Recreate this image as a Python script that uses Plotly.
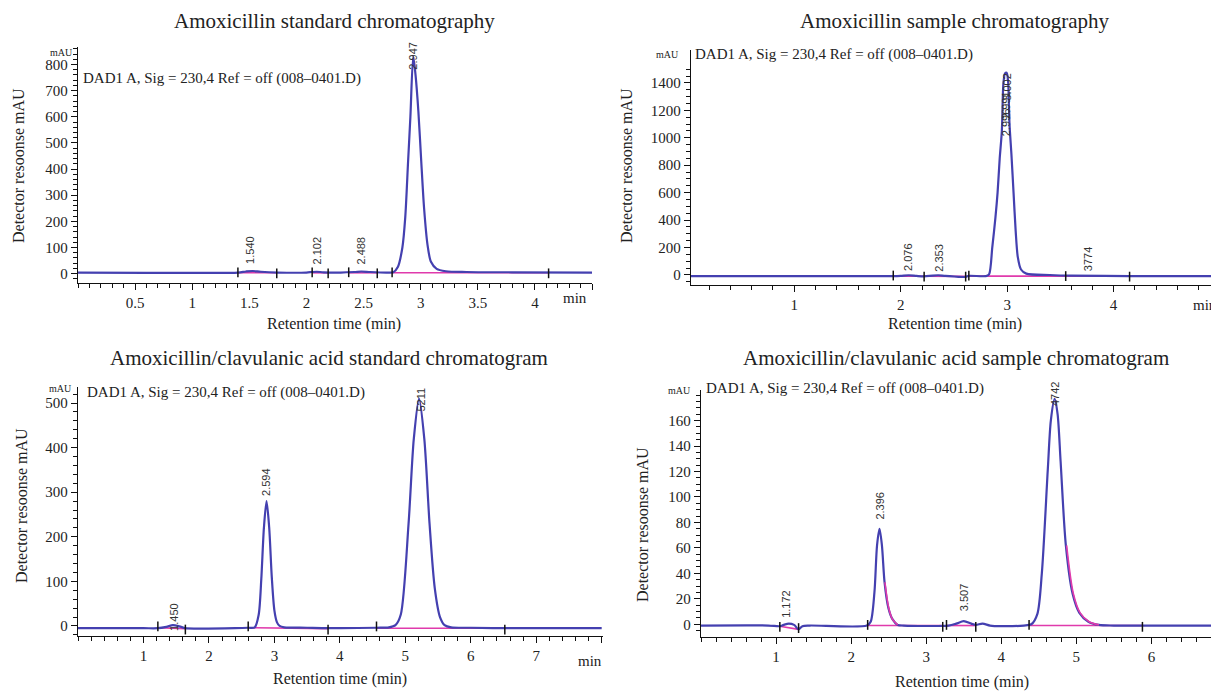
import plotly.graph_objects as go

# page body has an 8px default margin, so the figure is drawn 8px smaller and
# all reference-pixel positions are shifted by that offset
W, H = 1219, 692
OFF = 8
FW, FH = W - OFF, H - OFF

# ---------------- data ----------------
# Panel 1: Amoxicillin standard
t1 = [0, 0.6, 1.0, 1.40, 1.47, 1.53, 1.60, 1.75, 2.0, 2.05, 2.09, 2.15, 2.3, 2.42, 2.48, 2.56, 2.7, 2.76,
      2.80, 2.84, 2.865, 2.89, 2.91, 2.935, 2.955, 2.98, 3.005, 3.03, 3.06, 3.09, 3.14, 3.22, 3.4, 3.8, 4.5]
y1 = [4, 3, 3, 4, 8, 10, 7, 4, 4, 6, 7, 5, 4, 6, 8, 6, 4, 5,
      25, 100, 215, 430, 600, 830, 760, 620, 430, 250, 110, 45, 18, 9, 6, 5, 4]
base1_t = [1.40, 1.74, None, 2.05, 2.19, None, 2.37, 2.62, None, 2.75, 4.12]
base1_y = [3, 3, None, 3, 3, None, 3, 3, None, 3, 3]
ev1_t = [1.40, 1.74, 2.05, 2.19, 2.37, 2.62, 2.75, 4.12]
ev1_y = [5, 1, 5, 1, 5, 1, 5, 1]
lab1_t = [1.507, 2.094, 2.48, 2.933]
lab1_y = [30, 28, 28, 834]
lab1_anchor = ["bottom", "bottom", "bottom", "middle"]
lab1_txt = ["1.540", "2.102", "2.488", "2.947"]

# Panel 2: Amoxicillin sample
t2 = [0.03, 1.0, 1.6, 1.93, 2.0, 2.076, 2.15, 2.22, 2.30, 2.353, 2.42, 2.61, 2.64, 2.80, 2.83, 2.86, 2.89,
      2.91, 2.93, 2.95, 2.965, 2.98, 2.995, 3.008, 3.022, 3.04, 3.06, 3.08, 3.10, 3.13, 3.18,
      3.4, 3.6, 4.15, 4.99]
y2 = [-8, -8, -8, -8, -6, -2, -7, -10, -4, -2, -6, -14, -6, -8, 5, 200, 420,
      600, 850, 1050, 1400, 1470, 1475, 1420, 1100, 880, 600, 320, 130, 40, 10,
      0, -5, -8, -8]
base2_t = [1.93, 2.22, None, 2.22, 2.61, None, 2.64, 3.55, None, 3.55, 4.15]
base2_y = [-8, -9, None, -9, -10, None, -8, -8, None, -8, -8]
ev2_t = [1.93, 2.22, 2.61, 2.64, 3.55, 4.15]
ev2_y = [-4, -12, -12, -4, -8, -12]
lab2_t = [2.074, 2.363, 3.767, 2.985, 2.99, 2.995]
lab2_y = [12, 12, 12, 1110, 1240, 1370]
lab2_anchor = ["bottom", "bottom", "bottom", "middle", "middle", "middle"]
lab2_txt = ["2.076", "2.353", "3774", "2.996", "2.991", "3.002"]

# Panel 3: Amoxicillin/clavulanic acid standard
t3 = [0, 1.0, 1.22, 1.35, 1.45, 1.55, 1.64, 1.8, 2.4, 2.60, 2.70, 2.76, 2.80, 2.84, 2.88, 2.92, 2.96, 3.00,
      3.04, 3.08, 3.15, 3.5, 4.0, 4.56, 4.75, 4.85, 4.93, 5.05, 5.13, 5.21, 5.29, 5.37, 5.45, 5.53, 5.60,
      5.70, 6.0, 6.52, 8.0]
y3 = [-5, -5, -5, -2, 2, -1, -5, -6, -5, -4, -3, 25, 105, 220, 280, 222, 110, 35,
      8, 0, -3, -4, -5, -4, -3, 2, 25, 230, 420, 510, 420, 230, 85, 20, 2,
      -3, -4, -5, -5]
base3_t = [1.22, 1.64, None, 2.60, 3.82, None, 4.56, 6.52]
base3_y = [-4, -6, None, -4, -6, None, -5, -5]
ev3_t = [1.22, 1.64, 2.60, 3.82, 4.56, 6.52]
ev3_y = [-1, -8, -1, -8, -1, -8]
lab3_t = [1.464, 2.88, 5.24]
lab3_y = [20, 286, 508]
lab3_anchor = ["middle", "bottom", "middle"]
lab3_txt = ["1.450", "2.594", "5211"]

# Panel 4: Amoxicillin/clavulanic acid sample
t4 = [0, 0.9, 1.05, 1.10, 1.17, 1.24, 1.30, 1.35, 1.45, 2.21, 2.26, 2.31, 2.345, 2.378, 2.41, 2.445, 2.495,
      2.55, 2.62, 2.7, 3.3, 3.4, 3.5, 3.6, 3.66, 3.75, 3.85, 4.0, 4.3, 4.40, 4.48, 4.54, 4.62, 4.66, 4.71,
      4.75, 4.79, 4.86, 4.95, 5.04, 5.16, 5.3, 5.5, 6.92]
y4 = [-1, -1, -1.5, -0.5, 0.5, -0.5, -4, -1.5, -1, -1, 2, 25, 62, 75, 62, 33, 13,
      4, -0.5, -1, -1, 0.5, 2.5, 0.5, -0.5, 0.5, -1, -1.5, -1, 0, 8, 40, 122, 160, 177,
      165, 128, 62, 24, 9, 2, -0.5, -1, -1]
tail4_t = [2.45, 2.50, 2.55, 2.62, None, 4.87, 4.96, 5.05, 5.17, 5.3]
tail4_y = [33, 13, 4, -0.5, None, 62, 24, 9, 2, -0.5]
base4_t = [1.05, 1.30, None, 2.22, 3.22, None, 3.27, 3.66, None, 4.37, 5.88]
base4_y = [-1.5, -4, None, -1, -1, None, -1, -1, None, -1, -1]
ev4_t = [1.05, 1.30, 2.22, 3.22, 3.27, 3.66, 4.37, 5.88]
ev4_y = [-2, -3, -0.5, -2, -0.5, -2, -0.5, -2]
lab4_t = [1.134, 2.383, 3.496, 4.719]
lab4_y = [3.6, 80.6, 9, 181]
lab4_anchor = ["bottom", "bottom", "bottom", "middle"]
lab4_txt = ["1.172", "2.396", "3.507", "4742"]

# axis ticks
xt1 = [0.5, 1, 1.5, 2, 2.5, 3, 3.5, 4, 4.5]
xt1_txt = ["0.5", "1", "1.5", "2", "2.5", "3", "3.5", "4", ""]
xt2 = [1, 2, 3, 4]
xt3 = [1, 2, 3, 4, 5, 6, 7, 8]
xt3_txt = ["1", "2", "3", "4", "5", "6", "7", ""]
xt4 = [1, 2, 3, 4, 5, 6]
yt1 = [0, 100, 200, 300, 400, 500, 600, 700, 800]
yt2 = [0, 200, 400, 600, 800, 1000, 1200, 1400]
yt2_minor = [-50, 50, 100, 150, 250, 300, 350, 450, 500, 550, 650, 700, 750, 850, 900, 950, 1050,
             1100, 1150, 1250, 1300, 1350, 1450, 1500]
yt3 = [0, 100, 200, 300, 400, 500]
yt4 = [0, 20, 40, 60, 80, 100, 120, 140, 160]
yt4_minor = [-5, 5, 10, 15, 25, 30, 35, 45, 50, 55, 65, 70, 75, 85, 90, 95, 105, 110, 115, 125, 130,
             135, 145, 150, 155, 165, 170, 175, 180]

titles = ["Amoxicillin standard chromatography", "Amoxicillin sample chromatography",
          "Amoxicillin/clavulanic acid standard chromatogram", "Amoxicillin/clavulanic acid sample chromatogram"]
ytitle = "Detector resoonse mAU"
xtitle = "Retention time (min)"
dad_text = "DAD1 A, Sig = 230,4 Ref = off (008\u20130401.D)"

# ---------------- layout helpers ----------------
def px(x):
    return (x - OFF) / FW

def py(y):
    return 1 - (y - OFF) / FH

SERIF = "Liberation Serif, Times New Roman, serif"
SANS = "Liberation Sans, Arial, sans-serif"
BLUE = "#4440b0"
MAG = "#e03aac"

panels = [
    dict(t=t1, y=y1, bt=base1_t, by=base1_y, et=ev1_t, ey=ev1_y, lt=lab1_t, ly=lab1_y, lx=lab1_txt,
         la=lab1_anchor, tt=None, ty=None,
         xdom=(78, 592), ydom=(47, 283), xr=(0, 4.5), yr=(-36, 867),
         xt=xt1, xtt=xt1_txt, xminor=0.1, yt=yt1, yminor=dict(dtick=20, tick0=0)),
    dict(t=t2, y=y2, bt=base2_t, by=base2_y, et=ev2_t, ey=ev2_y, lt=lab2_t, ly=lab2_y, lx=lab2_txt,
         la=lab2_anchor, tt=None, ty=None,
         xdom=(691, 1219), ydom=(50, 285), xr=(0.03, 4.99), yr=(-73, 1640),
         xt=xt2, xtt=[str(v) for v in xt2], xminor=0.2, yt=yt2, yminor=dict(tickmode="array", tickvals=yt2_minor)),
    dict(t=t3, y=y3, bt=base3_t, by=base3_y, et=ev3_t, ey=ev3_y, lt=lab3_t, ly=lab3_y, lx=lab3_txt,
         la=lab3_anchor, tt=None, ty=None,
         xdom=(78, 603), ydom=(387, 636), xr=(0, 8.02), yr=(-22.5, 536),
         xt=xt3, xtt=xt3_txt, xminor=0.2, yt=yt3, yminor=dict(dtick=20, tick0=0)),
    dict(t=t4, y=y4, bt=base4_t, by=base4_y, et=ev4_t, ey=ev4_y, lt=lab4_t, ly=lab4_y, lx=lab4_txt,
         la=lab4_anchor, tt=tail4_t, ty=tail4_y,
         xdom=(701, 1219), ydom=(390, 637), xr=(0, 6.9), yr=(-10, 184),
         xt=xt4, xtt=[str(v) for v in xt4], xminor=0.2, yt=yt4, yminor=dict(tickmode="array", tickvals=yt4_minor)),
]

fig = go.Figure()
annotations = []

for i, p in enumerate(panels, start=1):
    xa = "x" if i == 1 else f"x{i}"
    ya = "y" if i == 1 else f"y{i}"
    fig.add_trace(go.Scatter(x=p["bt"], y=p["by"], mode="lines", xaxis=xa, yaxis=ya,
                             line=dict(color=MAG, width=1.6), hoverinfo="skip", showlegend=False))
    fig.add_trace(go.Scatter(x=p["t"], y=p["y"], mode="lines", xaxis=xa, yaxis=ya,
                             line=dict(color=BLUE, width=2.2, shape="spline", smoothing=0.8),
                             showlegend=False))
    if p["tt"] is not None:
        fig.add_trace(go.Scatter(x=p["tt"], y=p["ty"], mode="lines", xaxis=xa, yaxis=ya,
                                 line=dict(color=MAG, width=1.6, shape="spline", smoothing=0.8),
                                 showlegend=False))
    fig.add_trace(go.Scatter(x=p["et"], y=p["ey"], mode="markers", xaxis=xa, yaxis=ya,
                             marker=dict(symbol="line-ns", size=7, line=dict(color="#111", width=1.5)),
                             showlegend=False, hoverinfo="skip"))
    for lt, ly, lx, la in zip(p["lt"], p["ly"], p["lx"], p["la"]):
        annotations.append(dict(x=lt, y=ly, xref=xa, yref=ya, text=lx, showarrow=False,
                                textangle=-90, yanchor=la, xanchor="center",
                                font=dict(family=SANS, size=11, color="#333")))

    axis_common = dict(showline=True, linecolor="#111", linewidth=1.3, ticks="outside", ticklen=6,
                       tickwidth=1.3, tickcolor="#111", showgrid=False, zeroline=False,
                       tickfont=dict(family=SERIF, size=15, color="#222"))
    fig.layout[f"xaxis{'' if i == 1 else i}"] = dict(
        axis_common, domain=[max(0, px(p["xdom"][0])), min(1, px(p["xdom"][1]))], range=list(p["xr"]),
        anchor=ya, tickmode="array", tickvals=p["xt"], ticktext=p["xtt"],
        minor=dict(dtick=p["xminor"], tick0=0, ticks="outside", ticklen=4, tickwidth=1.2,
                   tickcolor="#111", showgrid=False))
    ym = dict(ticks="outside", ticklen=4, tickwidth=1.2, tickcolor="#111", showgrid=False)
    ym.update(p["yminor"])
    fig.layout[f"yaxis{'' if i == 1 else i}"] = dict(
        axis_common, domain=[max(0, py(p["ydom"][1])), min(1, py(p["ydom"][0]))], range=list(p["yr"]),
        anchor=xa, tickmode="array", tickvals=p["yt"], ticktext=[str(v) for v in p["yt"]],
        minor=ym)

def ann(x, y, text, size, family=SERIF, angle=0, xanchor="center", yanchor="middle", color="#222"):
    annotations.append(dict(x=px(x), y=py(y), xref="paper", yref="paper", text=text, showarrow=False,
                            textangle=angle, xanchor=xanchor, yanchor=yanchor,
                            font=dict(family=family, size=size, color=color)))

ann(334, 21, titles[0], 21)
ann(955, 21, titles[1], 21)
ann(329, 358, titles[2], 21)
ann(956, 358, titles[3], 21)

ann(334, 324, xtitle, 16)
ann(955, 324, xtitle, 16)
ann(340, 679, xtitle, 16)
ann(962, 682, xtitle, 16)

ann(18, 166, ytitle, 16, angle=-90)
ann(626, 166, ytitle, 16, angle=-90)
ann(21, 506, ytitle, 16, angle=-90)
ann(642, 524, ytitle, 16, angle=-90)

ann(575, 298, "min", 15)
ann(1219, 305, "min", 15, xanchor="right")
ann(590, 661, "min", 15)

ann(81, 78, dad_text, 15, xanchor="left")
ann(693, 54, dad_text, 15, xanchor="left")
ann(85, 392, dad_text, 15, xanchor="left")
ann(704, 389, dad_text, 15, xanchor="left")

ann(75, 52, "mAU", 10, xanchor="right")
ann(681, 55, "mAU", 10, xanchor="right")
ann(74, 389, "mAU", 10, xanchor="right")
ann(693, 390, "mAU", 10, xanchor="right")

fig.update_layout(width=FW, height=FH, margin=dict(l=0, r=0, t=0, b=0),
                  paper_bgcolor="white", plot_bgcolor="white", showlegend=False,
                  annotations=annotations)

fig.write_html("out.html")
